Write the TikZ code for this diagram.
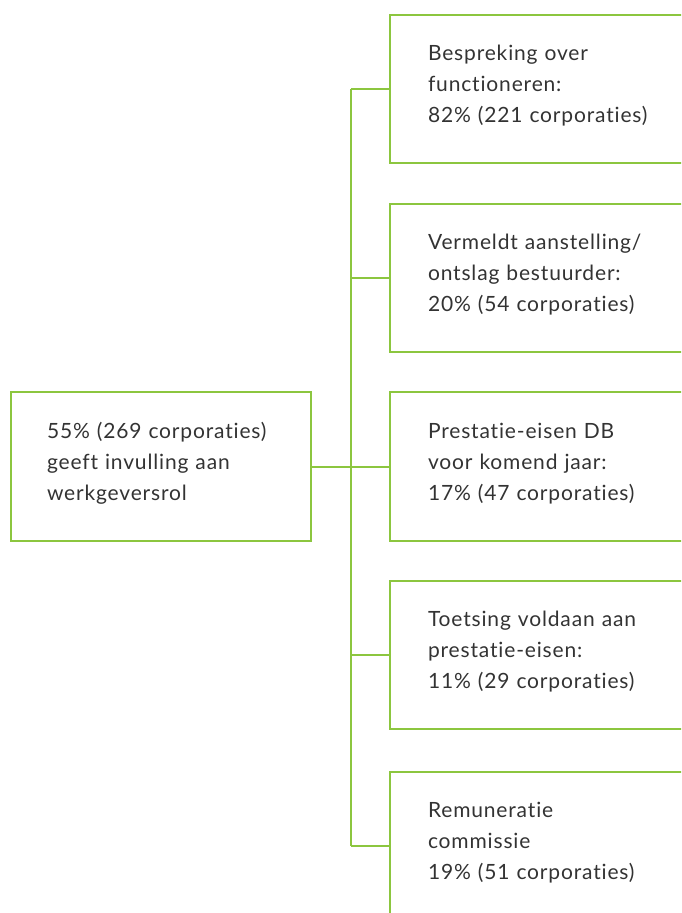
\documentclass[tikz,border=0pt]{standalone}
\usepackage{fontspec}
\setmainfont[LetterSpace=4,Ligatures={NoCommon,NoRare}]{Lato}
\definecolor{lgreen}{HTML}{8CC63F}
\definecolor{txt}{HTML}{333333}
\newcommand\myendgap{\endgraf\vspace*{3pt}}
\begin{document}
\begin{tikzpicture}[x=0.5pt,y=-0.5pt,
  box/.style={draw=lgreen,line width=1pt,rectangle,minimum height=74pt,text=txt,
    align=left,font=\fontsize{10.5}{15.5}\selectfont,inner xsep=18pt,
    execute at end node=\myendgap},
  rbox/.style={box,anchor=west,minimum width=170pt,text width=132pt},
  conn/.style={draw=lgreen,line width=1pt}]
\useasboundingbox (0,0) rectangle (681,913);
\clip (0,0) rectangle (681,913);
\node[box,anchor=west,minimum width=150pt,text width=114pt] (root) at (10,466.5)
  {55\% (269 corporaties)\\geeft invulling aan\\werkgeversrol};
\node[rbox] (b1) at (389,89) {Bespreking over\\functioneren:\\82\% (221 corporaties)};
\node[rbox] (b2) at (389,278) {Vermeldt aanstelling/\\ontslag bestuurder:\\20\% (54 corporaties)};
\node[rbox] (b3) at (389,466.5) {Prestatie-eisen DB\\voor komend jaar:\\17\% (47 corporaties)};
\node[rbox] (b4) at (389,655) {Toetsing voldaan aan\\prestatie-eisen:\\11\% (29 corporaties)};
\node[rbox] (b5) at (389,846) {Remuneratie\\commissie\\19\% (51 corporaties)};
\coordinate (top) at (351,89);
\coordinate (bot) at (351,846);
\coordinate (mid) at (351,466.5);
\draw[conn] (top) -- (bot);
\draw[conn] (root.east) -- (mid);
\foreach \b in {b1,b2,b3,b4,b5} \draw[conn] (\b.west) -- (\b.west -| top);
\end{tikzpicture}
\end{document}
